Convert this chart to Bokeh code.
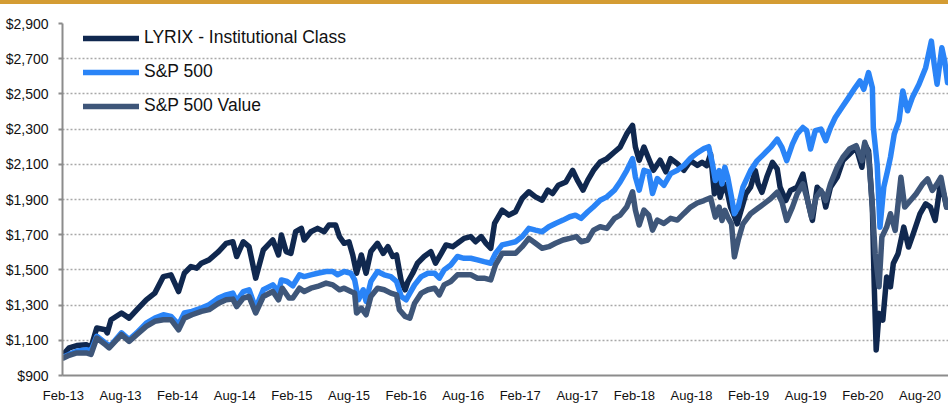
from bokeh.plotting import figure
from bokeh.models import FixedTicker, Legend, LegendItem, Div, Range1d
from bokeh.layouts import column
from bokeh.embed import file_html
from bokeh.resources import INLINE

# ---- tick labels ----
x_labels = ["Feb-13", "Aug-13", "Feb-14", "Aug-14", "Feb-15", "Aug-15", "Feb-16", "Aug-16",
            "Feb-17", "Aug-17", "Feb-18", "Aug-18", "Feb-19", "Aug-19", "Feb-20", "Aug-20"]
y_values = [900, 1100, 1300, 1500, 1700, 1900, 2100, 2300, 2500, 2700, 2900]
y_labels = ["$900", "$1,100", "$1,300", "$1,500", "$1,700", "$1,900", "$2,100",
            "$2,300", "$2,500", "$2,700", "$2,900"]

series_names = ["LYRIX - Institutional Class", "S&P 500", "S&P 500 Value"]

# ---- data: months since Feb-2013, growth of $1,000 ----
lyrix_month = [0, 0.6, 1.4, 2.4, 2.9, 3.5, 4.4, 4.6, 5.0, 6.1, 6.9, 7.7, 8.7, 9.6, 10.5, 11.3, 12.1, 12.7,
               13.4, 14.0, 14.5, 15.3, 16.3, 17.1, 17.8, 18.2, 18.9, 19.5, 20.2, 21.0, 22.0, 22.6, 22.9,
               23.4, 23.9, 24.4, 25.0, 25.3, 26.0, 26.7, 27.4, 27.9, 28.6, 29.0, 29.5, 30.0, 30.4, 30.8,
               31.3, 31.8, 32.3, 33.0, 33.6, 34.1, 34.6, 35.0, 35.5, 35.9, 36.2, 36.7, 37.2, 37.9, 38.6,
               39.1, 39.7, 40.2, 40.9, 41.4, 42.1, 42.8, 43.3, 43.9, 44.4, 44.9, 45.3, 46.1, 46.8, 47.5,
               48.2, 48.9, 49.6, 50.3, 50.9, 51.4, 52.0, 52.8, 53.5, 54.0, 54.6, 55.1, 55.7, 56.4, 57.1,
               57.9, 58.5, 59.2, 59.8, 60.1, 60.5, 61.0, 61.5, 62.0, 62.7, 63.3, 63.8, 64.5, 65.2, 65.9,
               66.6, 67.1, 67.6, 68.0, 68.4, 68.8, 69.0, 69.4, 69.8, 70.1, 70.4, 70.8, 71.1, 71.7, 72.2,
               72.7, 73.0, 73.4, 73.9, 74.5, 75.0, 75.3, 75.9, 76.4, 77.1, 77.7, 78.2, 78.7, 79.2, 79.8,
               80.1, 80.6, 81.3, 81.9, 82.6, 83.3, 83.9, 84.2, 84.6, 85.0, 85.2, 85.4, 85.7, 86.1, 86.5,
               86.9, 87.2, 87.7, 88.3, 88.8, 89.3, 90.0, 90.6, 91.1, 91.6, 92.1, 92.5, 92.8]
lyrix_value = [1020, 1057, 1070, 1075, 1060, 1170, 1160, 1142, 1217, 1255, 1226, 1273, 1330, 1368, 1462, 1472,
               1377, 1481, 1519, 1510, 1538, 1557, 1604, 1651, 1660, 1576, 1660, 1632, 1453, 1613, 1670,
               1585, 1698, 1604, 1594, 1717, 1736, 1670, 1717, 1736, 1717, 1755, 1755, 1689, 1651, 1660,
               1585, 1481, 1585, 1481, 1604, 1651, 1594, 1632, 1576, 1585, 1434, 1387, 1434, 1481, 1538,
               1576, 1604, 1538, 1594, 1642, 1632, 1651, 1679, 1689, 1660, 1689, 1651, 1623, 1764, 1840,
               1811, 1830, 1906, 1944, 1915, 1896, 1953, 1934, 1981, 2000, 2066, 2010, 1953, 2010, 2066,
               2113, 2132, 2170, 2198, 2274, 2321, 2198, 2123, 2198, 2132, 2066, 2123, 2057, 2132, 2104,
               2066, 2120, 2094, 2111, 2092, 2158, 1932, 2008, 1913, 1989, 1932, 1857, 1819, 1762, 1819,
               1932, 1970, 2064, 1989, 1941, 2026, 2111, 2074, 1970, 1894, 1951, 1970, 2045, 1894, 1781,
               1970, 1932, 1857, 1970, 2026, 2121, 2158, 2196, 2083, 2215, 2177, 1857, 1404, 1045, 1253,
               1215, 1460, 1404, 1536, 1592, 1743, 1630, 1706, 1819, 1875, 1857, 1781, 1970, 1932, 1857]

sp500_month = [0, 0.6, 1.4, 2.4, 2.9, 3.5, 4.4, 4.9, 6.1, 6.9, 7.7, 8.7, 9.6, 10.5, 11.3, 12.1, 12.7, 13.5,
               14.5, 15.3, 16.3, 17.1, 17.8, 18.2, 18.9, 19.5, 20.2, 21.0, 22.0, 22.6, 22.9, 23.5, 24.1,
               24.8, 25.3, 26.0, 26.7, 27.6, 28.3, 28.8, 29.5, 30.2, 30.6, 31.0, 31.5, 31.8, 32.3, 33.0,
               33.7, 34.4, 35.0, 35.5, 36.0, 36.4, 36.9, 37.6, 38.3, 39.0, 39.5, 40.0, 40.7, 41.4, 42.1,
               42.8, 43.5, 44.2, 44.9, 45.4, 46.1, 46.8, 47.5, 48.2, 48.9, 49.6, 50.3, 51.0, 51.7, 52.5,
               53.2, 53.8, 54.4, 55.1, 55.7, 56.4, 57.1, 57.9, 58.5, 59.2, 59.8, 60.1, 60.5, 61.0, 61.5,
               61.9, 62.4, 63.1, 63.8, 64.5, 65.2, 65.9, 66.6, 67.3, 67.8, 68.2, 68.5, 68.9, 69.2, 69.5,
               69.8, 70.2, 70.5, 70.9, 71.4, 72.2, 72.9, 73.6, 74.3, 75.0, 75.5, 76.0, 76.6, 77.1, 77.7,
               78.1, 78.5, 79.0, 79.6, 80.1, 80.6, 81.1, 81.8, 82.5, 83.2, 83.7, 84.1, 84.6, 85.0, 85.1,
               85.5, 85.8, 86.2, 86.6, 86.9, 87.3, 87.8, 88.2, 88.7, 89.2, 89.9, 90.6, 91.2, 91.5, 91.8,
               92.3, 92.6, 92.9]
sp500_value = [1005, 1020, 1038, 1047, 1040, 1123, 1085, 1066, 1142, 1104, 1142, 1198, 1226, 1245, 1236, 1189,
               1255, 1264, 1283, 1302, 1340, 1358, 1368, 1321, 1377, 1387, 1283, 1387, 1415, 1377, 1443,
               1434, 1410, 1472, 1462, 1472, 1481, 1491, 1491, 1472, 1491, 1481, 1443, 1330, 1387, 1321,
               1434, 1491, 1472, 1462, 1434, 1349, 1330, 1368, 1415, 1462, 1481, 1481, 1453, 1500, 1528,
               1576, 1566, 1566, 1557, 1547, 1538, 1594, 1642, 1651, 1660, 1689, 1736, 1726, 1717, 1745,
               1764, 1783, 1802, 1811, 1793, 1830, 1859, 1896, 1915, 1953, 2000, 2066, 2132, 2028, 1953,
               2066, 2057, 1934, 2019, 1981, 2047, 2066, 2094, 2135, 2165, 2189, 2200, 2102, 2008, 2064,
               1989, 2083, 2026, 1913, 1819, 1857, 1970, 2064, 2121, 2158, 2196, 2243, 2196, 2121, 2215,
               2272, 2309, 2291, 2187, 2291, 2300, 2234, 2309, 2366, 2423, 2479, 2536, 2574, 2526, 2621,
               2536, 2309, 2102, 1743, 1970, 2064, 2140, 2272, 2347, 2517, 2404, 2479, 2555, 2649, 2800,
               2668, 2555, 2762, 2687, 2564]

value_month = [0, 0.6, 1.4, 2.4, 2.9, 3.5, 4.4, 4.8, 6.1, 6.9, 7.7, 8.7, 9.6, 10.5, 11.3, 12.1, 12.7, 13.5,
               14.5, 15.3, 16.3, 17.1, 17.8, 18.2, 18.9, 19.5, 20.2, 21.0, 22.0, 22.6, 23.0, 23.7, 24.1,
               24.8, 25.3, 26.0, 26.7, 27.6, 28.3, 29.0, 29.5, 30.2, 30.6, 30.8, 31.3, 31.8, 32.3, 33.0,
               33.7, 34.4, 35.0, 35.3, 35.9, 36.4, 36.9, 37.6, 38.3, 39.0, 39.5, 40.0, 40.7, 41.4, 42.1,
               42.8, 43.5, 44.2, 44.9, 45.4, 46.1, 46.8, 47.5, 48.2, 48.9, 49.6, 50.3, 51.0, 51.7, 52.5,
               53.2, 53.9, 54.4, 55.1, 55.7, 56.4, 57.1, 57.9, 58.5, 59.2, 59.8, 60.1, 60.5, 61.0, 61.5,
               61.9, 62.4, 63.1, 63.8, 64.5, 65.2, 65.9, 66.6, 67.3, 68.0, 68.5, 68.9, 69.2, 69.5, 69.8,
               70.2, 70.5, 70.9, 71.4, 72.2, 72.9, 73.6, 74.3, 75.0, 75.5, 76.0, 76.6, 77.1, 77.7, 78.2,
               78.6, 79.1, 79.6, 80.1, 80.6, 81.3, 81.9, 82.6, 83.3, 83.9, 84.2, 84.6, 85.0, 85.3, 85.7,
               86.0, 86.5, 86.9, 87.4, 88.0, 88.4, 89.0, 89.6, 90.3, 90.8, 91.3, 91.8, 92.2, 92.8]
value_value = [1000, 1015, 1028, 1028, 1020, 1113, 1075, 1057, 1132, 1094, 1132, 1179, 1208, 1217, 1217, 1160,
               1226, 1245, 1264, 1274, 1311, 1330, 1334, 1292, 1340, 1349, 1255, 1349, 1377, 1330, 1396,
               1340, 1340, 1396, 1377, 1396, 1406, 1425, 1415, 1387, 1396, 1377, 1368, 1255, 1283, 1245,
               1349, 1396, 1387, 1368, 1358, 1274, 1236, 1226, 1311, 1368, 1387, 1396, 1358, 1415, 1434,
               1472, 1472, 1472, 1453, 1453, 1443, 1528, 1594, 1594, 1594, 1632, 1679, 1651, 1623, 1632,
               1651, 1670, 1679, 1689, 1660, 1670, 1726, 1745, 1736, 1793, 1811, 1859, 1944, 1840, 1755,
               1840, 1811, 1726, 1783, 1764, 1793, 1783, 1821, 1857, 1880, 1894, 1910, 1800, 1857, 1781,
               1838, 1800, 1762, 1574, 1668, 1762, 1819, 1847, 1875, 1904, 1941, 1885, 1781, 1857, 1932,
               1989, 1894, 1800, 1913, 1951, 1894, 1989, 2083, 2140, 2187, 2206, 2121, 2225, 2158, 1857,
               1592, 1404, 1687, 1743, 1819, 1724, 2026, 1857, 1894, 1932, 1989, 2017, 1951, 1989, 2026,
               1857]

colors = ["#10284F", "#2A84F7", "#3E5679"]

p = figure(width=948, height=401, output_backend="svg", toolbar_location=None,
           x_range=Range1d(-0.1, 93.0), y_range=Range1d(y_values[0], y_values[-1]),
           min_border_left=62, min_border_right=0, min_border_top=19, min_border_bottom=29)
p.outline_line_color = None
p.background_fill_color = "white"
p.border_fill_color = "white"

renderers = []
for xs, ys, c in [(lyrix_month, lyrix_value, colors[0]),
                  (sp500_month, sp500_value, colors[1]),
                  (value_month, value_value, colors[2])]:
    r = p.line(xs, ys, line_color=c, line_width=5.5, line_join="round", line_cap="round")
    renderers.append(r)

# axes
p.xaxis.ticker = FixedTicker(ticks=[6 * i for i in range(len(x_labels))])
p.xaxis.major_label_overrides = {6 * i: lab for i, lab in enumerate(x_labels)}
p.yaxis.ticker = FixedTicker(ticks=y_values)
p.yaxis.major_label_overrides = {v: lab for v, lab in zip(y_values, y_labels)}

for ax in (p.xaxis[0], p.yaxis[0]):
    ax.axis_line_color = "#8C8C8C"
    ax.axis_line_width = 2
    ax.minor_tick_line_color = None
    ax.major_label_text_color = "#111111"
p.xaxis.major_tick_line_color = None
p.xaxis.major_tick_out = 0
p.xaxis.major_label_standoff = 12
p.xaxis.major_label_text_font = "Liberation Sans"
p.xaxis.major_label_text_font_size = "13px"
p.yaxis.major_tick_line_color = "#8C8C8C"
p.yaxis.major_tick_line_width = 2
p.yaxis.major_tick_out = 4
p.yaxis.major_tick_in = 0
p.yaxis.major_label_standoff = 10
p.yaxis.major_label_text_font = "Liberation Sans"
p.yaxis.major_label_text_font_size = "14px"

p.xgrid.grid_line_color = None
p.ygrid.grid_line_color = "#A8A8A8"
p.ygrid.grid_line_dash = "2 2"
p.ygrid.grid_line_width = 1.5

legend = Legend(items=[LegendItem(label=n, renderers=[r]) for n, r in zip(series_names, renderers)],
                location=(21, 259), orientation="vertical")
legend.background_fill_alpha = 0
legend.border_line_color = None
legend.padding = 0
legend.margin = 0
legend.spacing = 13
legend.glyph_width = 56
legend.glyph_height = 20
legend.label_height = 20
legend.label_standoff = 5
legend.label_text_font = "Liberation Sans"
legend.label_text_font_size = "17.5px"
legend.label_text_color = "#111111"
p.add_layout(legend)

bar = Div(text="", width=948, height=4, margin=0,
          styles={"background-color": "#D49C33"})

layout = column(bar, p, spacing=0)
open("out.html", "w").write(file_html(layout, INLINE))
